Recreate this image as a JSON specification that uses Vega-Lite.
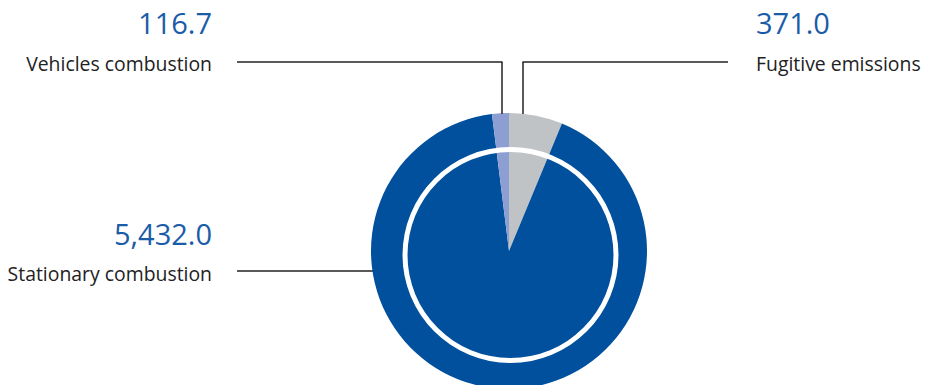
{
  "$schema": "https://vega.github.io/schema/vega-lite/v6.json",
  "width": 926,
  "height": 385,
  "autosize": {"type": "none"},
  "padding": 0,
  "background": "white",
  "config": {"view": {"stroke": null}, "font": "Open Sans"},
  "data": {"values": [
    {"category": "Fugitive emissions", "value": 371.0},
    {"category": "Stationary combustion", "value": 5432.0},
    {"category": "Vehicles combustion", "value": 116.7}
  ]},
  "layer": [
    {
      "mark": {"type": "arc", "outerRadius": 138},
      "encoding": {
        "x": {"value": 509},
        "y": {"value": 251},
        "theta": {"field": "value", "type": "quantitative", "stack": true},
        "color": {"field": "category", "type": "nominal", "sort": ["Fugitive emissions", "Stationary combustion", "Vehicles combustion"],
          "scale": {"domain": ["Fugitive emissions", "Stationary combustion", "Vehicles combustion"], "range": ["#bfc3c6", "#00509e", "#8d9ed3"]},
          "legend": null}
      }
    },
    {
      "transform": [{"filter": "datum.category === 'Stationary combustion'"}],
      "mark": {"type": "arc", "innerRadius": 103, "outerRadius": 108, "fill": "white"},
      "encoding": {
        "x": {"value": 510.5},
        "y": {"value": 255},
        "theta": {"value": 0},
        "theta2": {"value": 6.2832}
      }
    },
    {
      "transform": [{"filter": "datum.category === 'Vehicles combustion'"}],
      "layer": [
        {"mark": {"type": "rule", "color": "#222222", "strokeWidth": 1.5},
         "encoding": {"x": {"value": 237}, "x2": {"value": 502.5}, "y": {"value": 62}, "y2": {"value": 62}}},
        {"mark": {"type": "rule", "color": "#222222", "strokeWidth": 1.5},
         "encoding": {"x": {"value": 502}, "x2": {"value": 502}, "y": {"value": 62}, "y2": {"value": 114}}},
        {"mark": {"type": "text", "align": "right", "baseline": "alphabetic", "fontSize": 29, "color": "#1b5ca8"},
         "encoding": {"x": {"value": 212}, "y": {"value": 34}, "text": {"field": "value", "type": "quantitative", "format": ",.1f"}}},
        {"mark": {"type": "text", "align": "right", "baseline": "alphabetic", "fontSize": 19.4, "color": "#222222"},
         "encoding": {"x": {"value": 212}, "y": {"value": 71}, "text": {"field": "category", "type": "nominal"}}}
      ]
    },
    {
      "transform": [{"filter": "datum.category === 'Fugitive emissions'"}],
      "layer": [
        {"mark": {"type": "rule", "color": "#222222", "strokeWidth": 1.5},
         "encoding": {"x": {"value": 522.5}, "x2": {"value": 728}, "y": {"value": 62}, "y2": {"value": 62}}},
        {"mark": {"type": "rule", "color": "#222222", "strokeWidth": 1.5},
         "encoding": {"x": {"value": 523}, "x2": {"value": 523}, "y": {"value": 62}, "y2": {"value": 114}}},
        {"mark": {"type": "text", "align": "left", "baseline": "alphabetic", "fontSize": 29, "color": "#1b5ca8"},
         "encoding": {"x": {"value": 756}, "y": {"value": 34}, "text": {"field": "value", "type": "quantitative", "format": ",.1f"}}},
        {"mark": {"type": "text", "align": "left", "baseline": "alphabetic", "fontSize": 19.4, "color": "#222222"},
         "encoding": {"x": {"value": 756}, "y": {"value": 71}, "text": {"field": "category", "type": "nominal"}}}
      ]
    },
    {
      "transform": [{"filter": "datum.category === 'Stationary combustion'"}],
      "layer": [
        {"mark": {"type": "rule", "color": "#222222", "strokeWidth": 1.5},
         "encoding": {"x": {"value": 237}, "x2": {"value": 373}, "y": {"value": 271}, "y2": {"value": 271}}},
        {"mark": {"type": "text", "align": "right", "baseline": "alphabetic", "fontSize": 29, "color": "#1b5ca8"},
         "encoding": {"x": {"value": 212}, "y": {"value": 245}, "text": {"field": "value", "type": "quantitative", "format": ",.1f"}}},
        {"mark": {"type": "text", "align": "right", "baseline": "alphabetic", "fontSize": 19.4, "color": "#222222"},
         "encoding": {"x": {"value": 212}, "y": {"value": 281}, "text": {"field": "category", "type": "nominal"}}}
      ]
    }
  ]
}
